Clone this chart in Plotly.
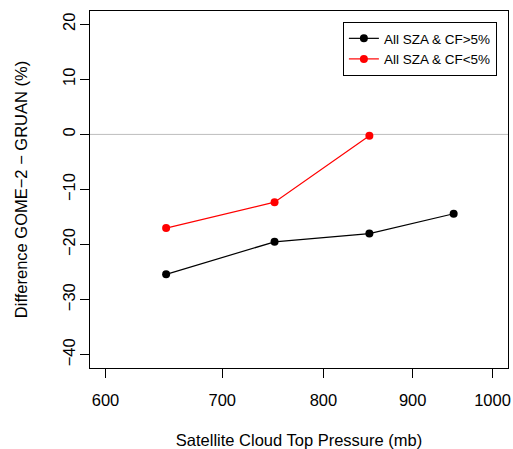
import plotly.graph_objects as go
import math

pressure = [650, 750, 850, 950]
cf_gt5 = [-25.4, -19.5, -18.0, -14.4]
pressure_lt5 = [650, 750, 850]
cf_lt5 = [-17.0, -12.3, -0.25]
x_ticks = [600, 700, 800, 900, 1000]
y_ticks = [-40, -30, -20, -10, 0, 10, 20]

FONT = "Liberation Sans, Arial, Helvetica, sans-serif"

fig = go.Figure()
fig.add_trace(go.Scatter(x=pressure, y=cf_gt5, mode="lines+markers", name="All SZA & CF>5%",
                         line=dict(color="black", width=1.2), marker=dict(color="black", size=8)))
fig.add_trace(go.Scatter(x=pressure_lt5, y=cf_lt5, mode="lines+markers", name="All SZA & CF<5%",
                         line=dict(color="red", width=1.2), marker=dict(color="red", size=8)))

fig.add_hline(y=0, line=dict(color="#bebebe", width=1), layer="below")

lx0, lx1 = math.log10(600), math.log10(1000)
pad = 0.04 * (lx1 - lx0)

fig.update_layout(
    width=513, height=449,
    margin=dict(l=90, r=5, t=11, b=81),
    plot_bgcolor="white", paper_bgcolor="white",
    font=dict(family=FONT, size=16.5, color="black"),
    showlegend=True,
    legend=dict(x=0.605, y=0.969, xanchor="left", yanchor="top",
                bordercolor="black", borderwidth=1, bgcolor="white",
                font=dict(size=13.5), tracegroupgap=0, itemwidth=30),
    xaxis=dict(type="log", range=[lx0 - pad, lx1 + pad], tickvals=x_ticks,
               ticktext=[str(v) for v in x_ticks], showgrid=False, zeroline=False,
               showline=True, linecolor="black", linewidth=1, mirror=True,
               ticks="outside", ticklen=9, tickcolor="black", tickwidth=1,
               ticklabelstandoff=8, automargin=False,
               title=dict(text="Satellite Cloud Top Pressure (mb)", standoff=27,
                          font=dict(size=16.5))),
    yaxis=dict(range=[-42.4, 22.4], tickvals=y_ticks, showgrid=False, zeroline=False,
               showline=True, linecolor="black", linewidth=1, mirror=True,
               ticks="outside", ticklen=9, tickcolor="black", tickwidth=1,
               tickangle=-90, ticklabelstandoff=-2, automargin=False,
               title=dict(text="Difference GOME−2 − GRUAN (%)", standoff=28,
                          font=dict(size=16.5))),
)

fig.write_html("out.html", config={"displayModeBar": False},
               post_script="document.body.style.margin='0';document.body.style.overflow='hidden';")
